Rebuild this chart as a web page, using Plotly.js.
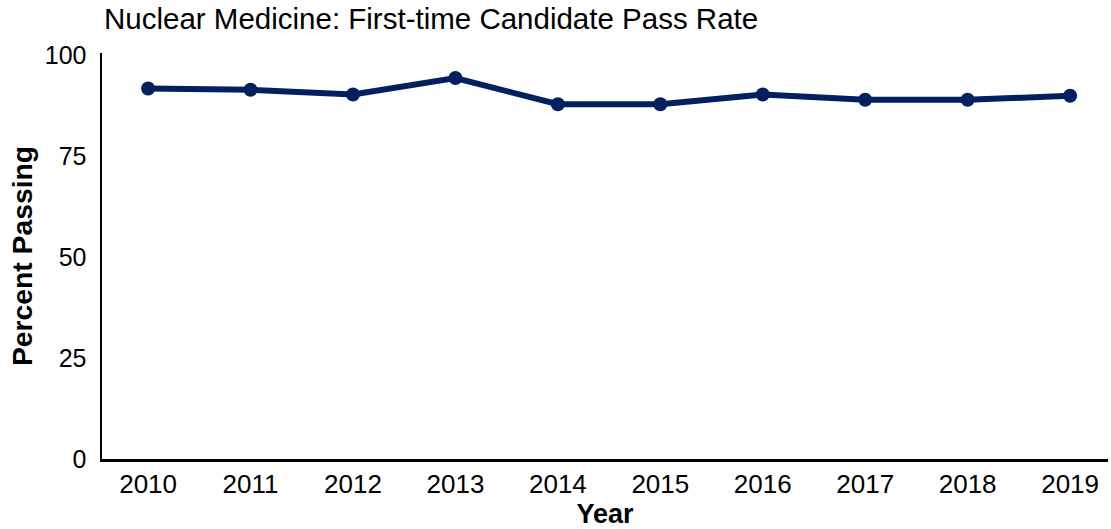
<!DOCTYPE html>
<html>
<head>
<meta charset="utf-8">
<script src="https://cdn.plot.ly/plotly-3.0.1.min.js"></script>
<style>html,body{margin:0;padding:0;background:#fff;}#chart{width:1111px;height:529px;}</style>
</head>
<body>
<div id="chart"></div>
<script>
const years = [2010, 2011, 2012, 2013, 2014, 2015, 2016, 2017, 2018, 2019];
const passRate = [91.8, 91.5, 90.3, 94.4, 87.9, 87.9, 90.3, 89.0, 89.0, 90.0];
const yTicks = [0, 25, 50, 75, 100];

const trace = {
  x: years,
  y: passRate,
  type: 'scatter',
  mode: 'lines+markers',
  line: {color: '#002060', width: 6},
  marker: {color: '#002060', size: 14},
  hoverinfo: 'x+y'
};

const layout = {
  width: 1111,
  height: 529,
  margin: {l: 102, r: 3, t: 53, b: 70},
  paper_bgcolor: '#fff',
  plot_bgcolor: '#fff',
  showlegend: false,
  font: {family: 'Liberation Sans, Arial, sans-serif', color: '#000'},
  title: {
    text: 'Nuclear Medicine: First-time Candidate Pass Rate',
    font: {size: 29.5, color: '#000', family: 'Liberation Sans, Arial, sans-serif'},
    x: 0, xref: 'paper', xanchor: 'left',
    y: 1, yref: 'container', yanchor: 'top', pad: {t: 8, l: 2}
  },
  xaxis: {
    range: [2009.55, 2019.37],
    tickvals: years,
    ticktext: years.map(String),
    showgrid: false,
    zeroline: false,
    showline: true,
    linecolor: '#000',
    linewidth: 2.5,
    ticks: '',
    ticklabelstandoff: 0,
    tickfont: {size: 26, color: '#000'},
    title: {text: '<b>Year</b>', font: {size: 27, color: '#000'}, standoff: 4}
  },
  yaxis: {
    range: [0, 100.6],
    tickvals: yTicks,
    ticktext: yTicks.map(String),
    showgrid: false,
    zeroline: false,
    showline: true,
    linecolor: '#000',
    linewidth: 2.5,
    ticks: '',
    ticklabelstandoff: 8,
    tickfont: {size: 25, color: '#000'},
    title: {text: '<b>Percent Passing</b>', font: {size: 28.3, color: '#000'}, standoff: 4}
  }
};

Plotly.newPlot('chart', [trace], layout, {displayModeBar: false, staticPlot: true});
</script>
</body>
</html>
